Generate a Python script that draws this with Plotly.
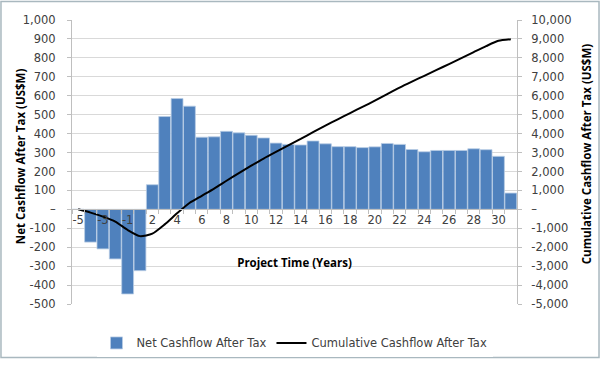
import plotly.graph_objects as go

years = ["-5", "-4", "-3", "-2", "-1"] + [str(i) for i in range(1, 32)]
net_cashflow = [0, -173, -209, -262, -447, -324,
                130, 490, 585, 545, 381, 383, 412, 404, 391, 377, 350, 343, 340,
                361, 346, 331, 331, 326, 330, 348, 343, 316, 304, 311, 311, 311,
                320, 315, 280, 86]
cumulative = [0, -173, -382, -644, -1091, -1415,
              -1285, -795, -210, 335, 716, 1099, 1511, 1915, 2306, 2683, 3033, 3376, 3716,
              4077, 4423, 4754, 5085, 5411, 5741, 6089, 6432, 6748, 7052, 7363, 7674, 7985,
              8305, 8620, 8900, 8986]
x_tick_labels = [y if i % 2 == 0 else "" for i, y in enumerate(years)]
left_ticks = list(range(-500, 1001, 100))
left_tick_text = ["–" if v == 0 else f"{v:,}" for v in left_ticks]
right_ticks = list(range(-5000, 10001, 1000))
right_tick_text = ["–" if v == 0 else f"{v:,}" for v in right_ticks]

TICKFONT = dict(family="DejaVu Sans", size=11.5, color="#404040")
TITLEFONT = dict(family="Open Sans", size=11.5, color="#000000", weight="bold")

fig = go.Figure()
fig.add_trace(go.Bar(
    x=years, y=net_cashflow, name="Net Cashflow After Tax",
    marker=dict(color="#4f81bd", line=dict(color="#b9cde5", width=0.8)),
    yaxis="y",
))
fig.add_trace(go.Scatter(
    x=years, y=cumulative, name="Cumulative Cashflow After Tax",
    mode="lines", line=dict(color="#000000", width=2, shape="spline", smoothing=0.6),
    yaxis="y2",
))

PW = 445.0
PH = 292.0
fig.update_layout(
    width=600, height=369,
    margin=dict(l=72, r=83, t=20, b=57),
    paper_bgcolor="white", plot_bgcolor="white",
    bargap=0.04,
    showlegend=True,
    legend=dict(orientation="h", x=0.5, xanchor="center", y=-0.137, yanchor="middle",
                font=dict(family="DejaVu Sans", size=11.5, color="#404040"),
                traceorder="normal", itemwidth=30),
    xaxis=dict(
        type="category", tickmode="array", tickvals=years, ticktext=x_tick_labels,
        tickfont=TICKFONT, tickangle=0, automargin=False,
        anchor="free", position=1/3,
        showline=True, linecolor="#bfbfbf", linewidth=1,
        ticks="outside", tickson="boundaries", ticklen=4, tickcolor="#bfbfbf",
        showgrid=False, zeroline=False,
        title=dict(text="Project Time (Years)", font=TITLEFONT, standoff=32),
    ),
    yaxis=dict(
        range=[-500, 1000], tickmode="array", tickvals=left_ticks, ticktext=left_tick_text,
        tickfont=TICKFONT, showgrid=True, gridcolor="#d9d9d9", gridwidth=1,
        showline=True, linecolor="#bfbfbf", ticks="outside", ticklen=4, tickcolor="#bfbfbf",
        ticklabelstandoff=9, automargin=False,
        zeroline=False,
    ),
    yaxis2=dict(
        range=[-5000, 10000], overlaying="y", side="right",
        tickmode="array", tickvals=right_ticks, ticktext=right_tick_text,
        tickfont=TICKFONT, showgrid=False, automargin=False,
        showline=True, linecolor="#bfbfbf", ticks="outside", ticklen=4, tickcolor="#bfbfbf",
        ticklabelstandoff=7,
        zeroline=False,
    ),
    annotations=[
        dict(text="Net Cashflow After Tax (US$M)", textangle=-90, showarrow=False,
             xref="paper", yref="paper", x=(20 - 72) / PW, y=(312 - 160) / PH,
             xanchor="center", yanchor="middle", font=TITLEFONT),
        dict(text="Cumulative Cashflow After Tax (US$M)", textangle=-90, showarrow=False,
             xref="paper", yref="paper", x=(586 - 72) / PW, y=(312 - 158) / PH,
             xanchor="center", yanchor="middle", font=TITLEFONT),
    ],
    shapes=[dict(type="rect", xref="paper", yref="paper",
                 x0=-0.1596, x1=1.1843, y0=-0.188, y1=1.065,
                 line=dict(color="#a9b8bf", width=1.5), fillcolor="rgba(0,0,0,0)", layer="below")],
)

fig.write_html("out.html", config={"displayModeBar": False},
               post_script="document.body.style.margin='0';")
